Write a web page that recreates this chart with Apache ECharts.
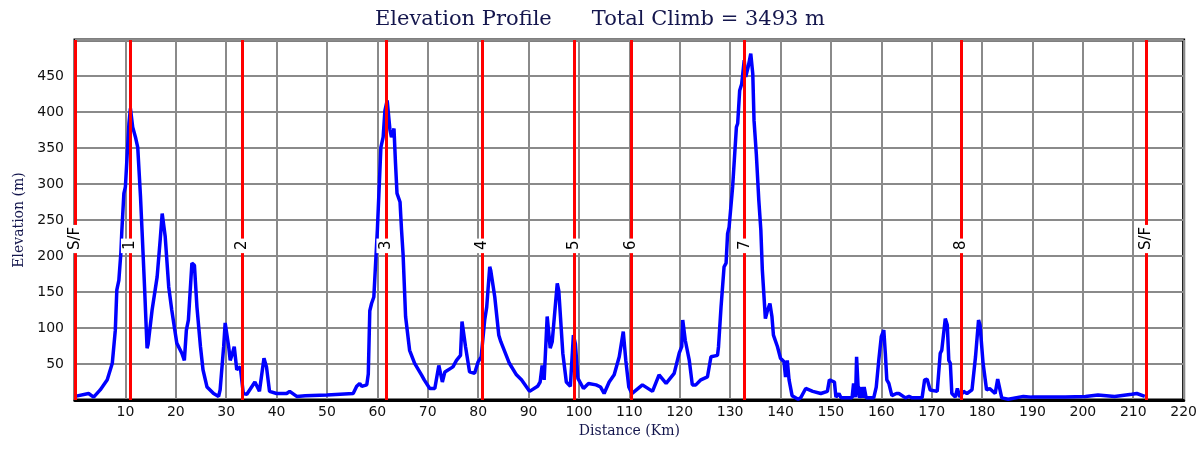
<!DOCTYPE html>
<html>
<head>
<meta charset="utf-8">
<script src="https://cdn.jsdelivr.net/npm/echarts@6/dist/echarts.min.js"></script>
<style>
  html, body { margin: 0; padding: 0; background: #fff; }
  #chart { width: 1200px; height: 450px; }
</style>
</head>
<body>
<div id="chart"></div>
<script>
// profile: distance (km) and elevation (m)
var distKm = [0, 2.7, 3.7, 5, 6.4, 7.4, 8.0, 8.3, 8.7, 9.1, 9.3, 9.7, 10, 10.7, 11, 11.45, 12, 12.45, 13, 13.3,
  13.8, 14.3, 14.5, 15.3, 16.3, 16.9, 17.3, 17.9, 18.6, 19.2, 20.2, 21.2, 21.7, 22.1, 22.5, 23.2, 23.7, 24.2, 24.9, 25.4,
  26.2, 27.5, 28.5, 28.8, 29.5, 29.8, 30.1, 30.5, 30.8, 31.25, 31.6, 32.1, 32.8, 33.4, 34.1, 35.7, 36.6, 37.5, 38, 38.6,
  40, 42, 42.6, 44, 45.7, 50, 55.2, 55.9, 56.5, 56.9, 57.9, 58.2, 58.5, 58.85, 59.3, 60, 60.7, 61.15, 61.5, 61.95,
  62.5, 62.8, 63.3, 63.6, 63.9, 64.5, 64.8, 65.1, 65.6, 66.4, 67.4, 68.75, 69.3, 70.4, 71.4, 72.2, 72.9, 73.4, 75, 75.7,
  76.5, 76.8, 77.1, 77.5, 78.3, 79.3, 80, 80.6, 81.3, 81.7, 82.3, 82.5, 83.3, 84.1, 84.5, 86.2, 87.6, 88.6, 90.2, 91.8,
  92.3, 92.7, 93.1, 93.7, 94.3, 94.7, 95.7, 96.0, 96.8, 97.5, 98.3, 98.9, 99.3, 99.8, 100.9, 101.9, 103.4, 104.3, 105, 106,
  107, 108, 108.8, 109.3, 109.9, 110.5, 112.6, 114.6, 115.9, 117.3, 118.9, 119.9, 120.4, 120.6, 121.1, 121.9, 122.5, 123.2, 124.2, 125.5,
  126.2, 126.5, 127.5, 127.7, 128.2, 128.8, 129.2, 129.5, 129.8, 130.5, 130.8, 131.25, 131.5, 131.9, 132.3, 132.8, 133.1, 133.6, 134.1, 134.5,
  134.75, 135.2, 135.7, 136.1, 136.4, 137, 137.4, 137.9, 138.3, 138.6, 139.4, 140, 140.7, 141, 141.35, 141.7, 142.3, 143.5, 144, 145,
  146.4, 148, 149.3, 149.7, 150.7, 151, 151.6, 152, 154.2, 154.5, 154.9, 155.1, 155.4, 155.7, 156.1, 156.3, 156.6, 157, 158.5, 159,
  159.5, 160, 160.5, 160.8, 161.1, 161.5, 162.1, 163, 163.5, 164.8, 165.5, 166.1, 168.1, 168.6, 169.1, 169.7, 171.1, 171.7, 172, 172.7,
  173.1, 173.4, 173.7, 174, 174.7, 175.1, 175.6, 176.3, 177, 178, 178.7, 179.3, 179.6, 180.2, 180.9, 181.5, 182.6, 183.1, 183.4, 183.9,
  185.2, 188.2, 189.8, 196.5, 200.5, 203, 206.3, 209.7, 210.7, 212.3];
var elevM = [5, 9, 4, 14, 28, 51, 97, 153, 166, 204, 236, 287, 296, 384, 405, 379, 365, 351, 282, 236,
  157, 72, 77, 125, 171, 222, 259, 227, 157, 125, 79, 65, 55, 97, 111, 190, 187, 129, 74, 42,
  18, 9, 5, 14, 74, 107, 107, 74, 55, 65, 74, 42, 46, 9, 8, 25, 12, 58, 46, 12,
  9, 9, 12, 5, 6, 7, 9, 19, 23, 19, 21, 36, 124, 134, 143, 236, 351, 365, 402, 416,
  375, 365, 377, 329, 287, 275, 236, 203, 116, 69, 51, 35, 28, 16, 16, 48, 25, 39, 46, 55,
  62, 109, 109, 74, 39, 37, 53, 60, 111, 129, 185, 180, 143, 90, 81, 51, 35, 28, 12, 19,
  25, 48, 28, 116, 72, 81, 162, 152, 65, 25, 19, 90, 78, 30, 16, 23, 21, 18, 9, 25,
  35, 60, 95, 55, 18, 9, 21, 12, 35, 23, 37, 65, 74, 111, 83, 55, 21, 21, 28, 32,
  60, 62, 62, 74, 129, 185, 190, 231, 240, 296, 298, 379, 384, 430, 439, 472, 449, 463, 481, 453,
  388, 342, 277, 236, 180, 113, 124, 134, 116, 90, 74, 58, 53, 32, 55, 28, 6, 1, 3, 16,
  12, 9, 12, 28, 25, 4, 9, 3, 3, 23, 4, 60, 18, 3, 18, 3, 18, 3, 3, 18,
  55, 88, 97, 65, 28, 23, 6, 9, 9, 3, 5, 3, 3, 28, 29, 14, 12, 65, 69, 113,
  104, 55, 51, 9, 4, 16, 4, 12, 9, 14, 60, 111, 104, 51, 14, 16, 9, 29, 28, 3,
  1, 5, 4, 4, 5, 7, 5, 8, 9, 5];

// checkpoints
var cpKm = [0, 11.0, 33.1, 61.7, 80.8, 99.1, 110.3, 132.9, 175.9, 212.5];
var cpNames = ['S/F', '1', '2', '3', '4', '5', '6', '7', '8', 'S/F'];
var cpLabelElev = 204;

var totalClimb = 3493;

var profile = distKm.map(function (d, i) { return [d, elevM[i]]; });
var cpLines = cpKm.map(function (d) { return { xAxis: d }; });
var cpLabels = cpKm.map(function (d, i) { return { value: [d, cpLabelElev], name: cpNames[i] }; });

var navy = '#14164d';
var serif = '"DejaVu Serif", serif';
var sans = '"DejaVu Sans", sans-serif';

var chart = echarts.init(document.getElementById('chart'));
var option = {
  animation: false,
  title: {
    text: 'Elevation Profile      Total Climb = ' + totalClimb + ' m',
    left: 'center',
    top: 4,
    textStyle: { fontFamily: serif, fontWeight: 'normal', fontSize: 21, color: navy }
  },
  grid: {
    left: 75, right: 15, top: 40, bottom: 50,
    show: true, borderColor: '#000', borderWidth: 3
  },
  xAxis: {
    type: 'value',
    min: 0, max: 220, interval: 10,
    name: 'Distance (Km)',
    nameLocation: 'middle',
    nameGap: 24,
    nameTextStyle: { fontFamily: serif, fontSize: 14, color: navy },
    axisLine: { lineStyle: { color: '#000', width: 3 } },
    axisTick: { show: false },
    axisLabel: {
      fontFamily: sans, fontSize: 14, color: '#111', margin: 5,
      formatter: function (v) { return v === 0 ? '' : v; }
    },
    splitLine: { lineStyle: { color: '#8a8a8a', width: 2 } }
  },
  yAxis: {
    type: 'value',
    min: 0, max: 500, interval: 50,
    name: 'Elevation (m)',
    nameLocation: 'middle',
    nameGap: 47,
    nameTextStyle: { fontFamily: serif, fontSize: 14, color: navy },
    axisLine: { show: false },
    axisTick: { show: false },
    axisLabel: {
      fontFamily: sans, fontSize: 14, color: '#111', margin: 11,
      formatter: function (v) { return (v === 0 || v === 500) ? '' : v; }
    },
    splitLine: { lineStyle: { color: '#8a8a8a', width: 2 } }
  },
  series: [
    {
      type: 'line',
      data: [],
      z: 3,
      markLine: {
        silent: true,
        symbol: 'none',
        label: { show: false },
        lineStyle: { color: '#ff0000', width: 3, type: 'solid', opacity: 1 },
        data: cpLines
      }
    },
    {
      type: 'line',
      data: profile,
      showSymbol: false,
      z: 4,
      lineStyle: { color: '#0000ff', width: 3.5 }
    },
    {
      type: 'scatter',
      data: cpLabels,
      symbolSize: 0,
      z: 6,
      itemStyle: { opacity: 1 },
      label: {
        show: true,
        position: 'inside',
        rotate: 90,
        align: 'left',
        verticalAlign: 'middle',
        formatter: '{b}',
        fontFamily: sans,
        fontSize: 15,
        color: '#000',
        opacity: 1,
        backgroundColor: '#fff',
        padding: [2, 2, 2, 3]
      }
    }
  ]
};
chart.setOption(option);
</script>
</body>
</html>
